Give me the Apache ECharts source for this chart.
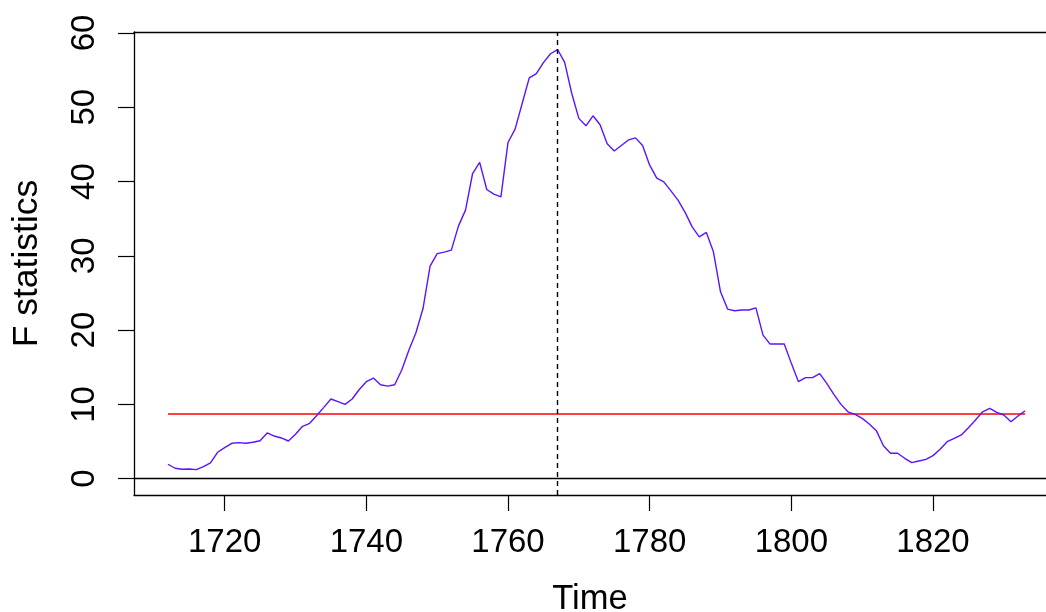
<!DOCTYPE html>
<html>
<head>
<meta charset="utf-8">
<script src="https://cdn.jsdelivr.net/npm/echarts@6/dist/echarts.min.js"></script>
<style>
html,body{margin:0;padding:0;background:#fff;}
#chart{width:1046px;height:612px;}
</style>
</head>
<body>
<div id="chart"></div>
<script>
// Time index (annual series starting 1712)
const startYear = 1712;
// F statistics
const fValues = [
  1.94, 1.40, 1.26, 1.30, 1.21, 1.62, 2.11, 3.55, 4.17, 4.76,
  4.85, 4.76, 4.90, 5.11, 6.15, 5.74, 5.48, 5.07, 5.97, 7.05,
  7.45, 8.50, 9.60, 10.72, 10.36, 10.00, 10.72, 12.00, 13.05, 13.55,
  12.65, 12.45, 12.65, 14.62, 17.30, 19.65, 22.90, 28.60, 30.30, 30.50,
  30.77, 34.00, 36.15, 41.08, 42.57, 38.93, 38.30, 37.94, 45.26, 47.05,
  50.50, 53.95, 54.53, 56.00, 57.20, 57.77, 56.05, 51.85, 48.50, 47.50,
  48.85, 47.65, 45.10, 44.10, 44.85, 45.60, 45.88, 44.85, 42.20, 40.45,
  39.96, 38.75, 37.50, 35.84, 33.90, 32.56, 33.15, 30.54, 25.16, 22.83,
  22.60, 22.70, 22.70, 23.00, 19.33, 18.12, 18.12, 18.12, 15.52, 13.05,
  13.60, 13.60, 14.13, 12.83, 11.35, 10.00, 9.00, 8.66, 8.12, 7.36,
  6.46, 4.44, 3.42, 3.42, 2.74, 2.15, 2.38, 2.60, 3.10, 3.95,
  4.98, 5.43, 5.88, 6.86, 7.90, 9.00, 9.47, 8.93, 8.57, 7.67,
  8.44, 9.15
];
const years = fValues.map((_, i) => startYear + i);
// Critical boundary (horizontal red line) and breakpoint
const boundaryValue = 8.7;
const breakYear = 1767;
// Tick labels
const xTicks = [1720, 1740, 1760, 1780, 1800, 1820];
const yTicks = [0, 10, 20, 30, 40, 50, 60];
// Visible axis ranges (plot region is cut at the right edge of the picture)
const xRange = [1707.2, 1835.95];
const yRange = [-2.2, 60.13];

const fSeries = years.map((y, i) => [y, fValues[i]]);
const boundarySeries = [[years[0], boundaryValue], [years[years.length - 1], boundaryValue]];

const FONT = '"Liberation Sans", Arial, Helvetica, sans-serif';
const chart = echarts.init(document.getElementById('chart'), null, {renderer: 'canvas'});
chart.setOption({
  animation: false,
  backgroundColor: '#ffffff',
  grid: {
    left: 134, top: 32, right: 0, height: 463,
    show: false, containLabel: false, outerBoundsMode: 'none'
  },
  xAxis: [{
    type: 'value', min: xRange[0], max: xRange[1], position: 'bottom',
    name: 'Time', nameLocation: 'middle', nameGap: 87,
    nameTextStyle: {color: '#000', fontSize: 34.5, fontFamily: FONT},
    axisLine: {show: true, onZero: false, lineStyle: {color: '#000', width: 1.3}},
    splitLine: {show: false},
    axisTick: {show: true, length: 16, lineStyle: {color: '#000', width: 1.2}, customValues: xTicks},
    axisLabel: {color: '#000', fontSize: 33, fontFamily: FONT, margin: 31, customValues: xTicks,
      formatter: v => String(v)}
  }, {
    type: 'value', min: xRange[0], max: xRange[1], position: 'top',
    axisLine: {show: true, onZero: false, lineStyle: {color: '#000', width: 1.3}},
    axisTick: {show: false}, axisLabel: {show: false}, splitLine: {show: false}
  }],
  yAxis: {
    type: 'value', min: yRange[0], max: yRange[1],
    name: 'F statistics', nameLocation: 'middle', nameGap: 88.5, nameRotate: 90,
    nameTextStyle: {color: '#000', fontSize: 35.5, fontFamily: FONT},
    axisLine: {show: true, onZero: false, lineStyle: {color: '#000', width: 1.3}},
    splitLine: {show: false},
    axisTick: {show: true, length: 16, lineStyle: {color: '#000', width: 1.2}, customValues: yTicks},
    axisLabel: {color: '#000', fontSize: 33, fontFamily: FONT, margin: 33, rotate: 90, customValues: yTicks,
      formatter: v => String(v)}
  },
  series: [
    {
      type: 'line', data: boundarySeries, showSymbol: false, symbol: 'none',
      lineStyle: {color: '#ff0000', width: 1.4}, silent: true, z: 2
    },
    {
      type: 'line', data: fSeries, showSymbol: false, symbol: 'none',
      lineStyle: {color: '#5a14ff', width: 1.4}, silent: true, z: 3,
      markLine: {
        silent: true, symbol: 'none', label: {show: false}, animation: false,
        data: [
          {xAxis: breakYear, lineStyle: {color: '#000', type: [5, 4], width: 1.4}},
          {yAxis: 0, lineStyle: {color: '#000', type: 'solid', width: 1.3}}
        ]
      }
    }
  ]
});
</script>
</body>
</html>
